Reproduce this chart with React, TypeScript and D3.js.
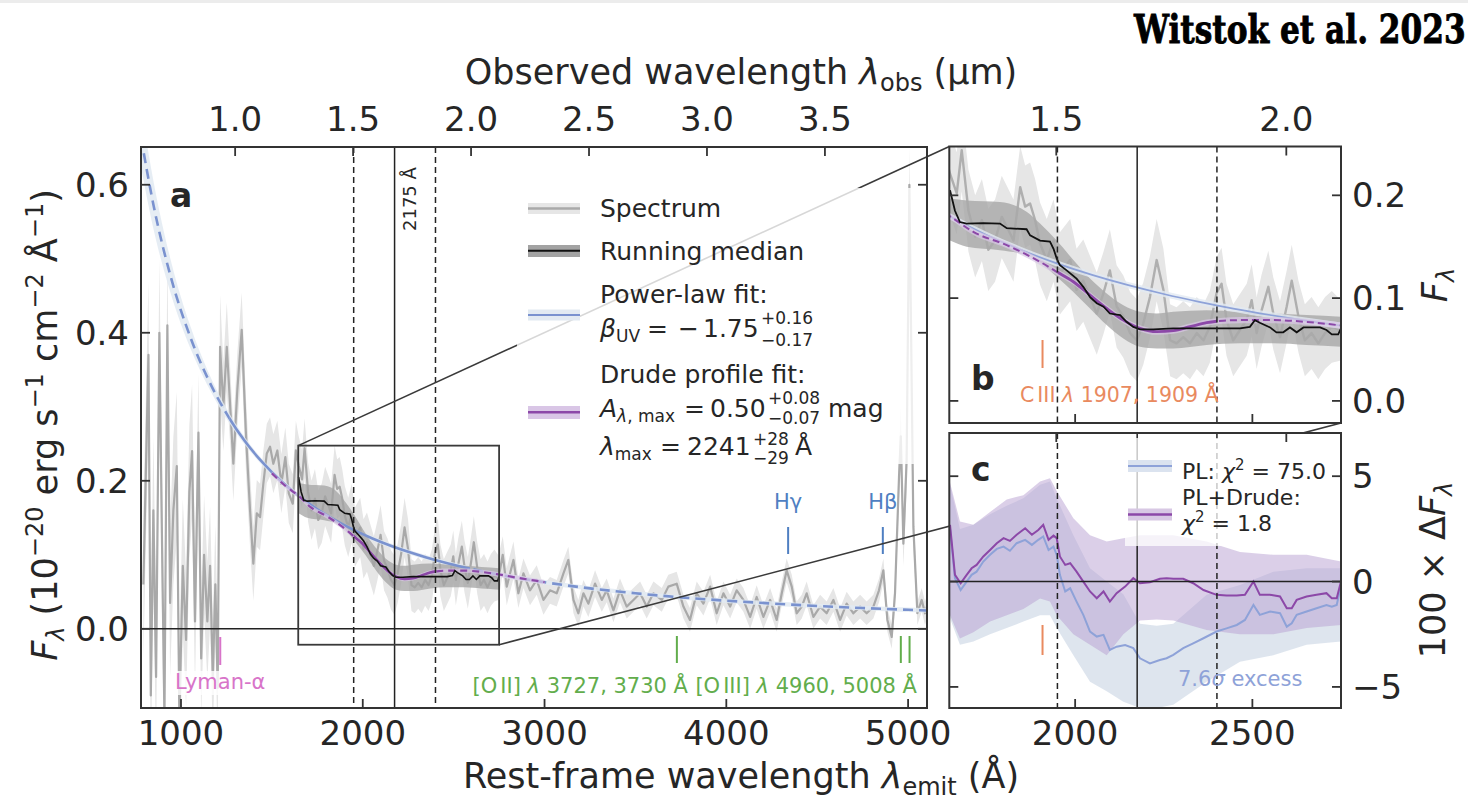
import React from "react";
import * as d3 from "d3";

// ---------------- data ----------------
const ONE_PLUS_Z = 7.705; // observed / rest-frame wavelength ratio

// spectrum: [rest wavelength (Å), F_lambda, 1-sigma error]
const spectrum: [number, number, number][] = [
  [793, 0.06, 0.1], [821, 0.37, 0.1], [834, -0.09, 0.1], [848, 0.16, 0.1], [863, -0.065, 0.1],
  [881, 0.4, 0.1], [896, 0.11, 0.1], [909, -0.12, 0.1], [925, 0.41, 0.1], [940, 0.035, 0.1],
  [958, 0.16, 0.1], [977, 0.22, 0.1], [991, -0.12, 0.1], [1010, 0.085, 0.09], [1028, -0.015, 0.09],
  [1046, 0.185, 0.09], [1061, 0.24, 0.09], [1077, 0.01, 0.09], [1096, 0.265, 0.08], [1111, -0.04, 0.08],
  [1127, 0.1, 0.08], [1145, 0.01, 0.08], [1160, 0.085, 0.08], [1175, -0.065, 0.08], [1189, 0.06, 0.08],
  [1202, -0.08, 0.08], [1215, 0.381, 0.07], [1233, 0.3, 0.06], [1252, 0.381, 0.06], [1274, 0.286, 0.05],
  [1288, 0.223, 0.05], [1310, 0.323, 0.05], [1334, 0.404, 0.05], [1358, 0.259, 0.05], [1380, 0.16, 0.05],
  [1398, 0.088, 0.05], [1417, 0.156, 0.045], [1435, 0.151, 0.045], [1453, 0.196, 0.045], [1472, 0.237, 0.04],
  [1490, 0.246, 0.04], [1508, 0.223, 0.04], [1530, 0.241, 0.04], [1552, 0.196, 0.04], [1574, 0.232, 0.04],
  [1593, 0.183, 0.04], [1615, 0.169, 0.04], [1632, 0.241, 0.04], [1647, 0.221, 0.04], [1666, 0.202, 0.04],
  [1680, 0.244, 0.04], [1699, 0.185, 0.04], [1718, 0.16, 0.04], [1737, 0.176, 0.04], [1755, 0.147, 0.04],
  [1774, 0.156, 0.04], [1793, 0.179, 0.04], [1812, 0.166, 0.04], [1826, 0.156, 0.04], [1845, 0.208, 0.04],
  [1859, 0.189, 0.04], [1873, 0.192, 0.04], [1887, 0.176, 0.04], [1901, 0.153, 0.04], [1920, 0.137, 0.04],
  [1939, 0.156, 0.04], [1957, 0.124, 0.04], [1986, 0.137, 0.04], [2004, 0.108, 0.04], [2023, 0.117, 0.04],
  [2042, 0.101, 0.04], [2061, 0.085, 0.04], [2080, 0.105, 0.04], [2098, 0.127, 0.04], [2117, 0.092, 0.04],
  [2136, 0.082, 0.04], [2155, 0.066, 0.04], [2174, 0.059, 0.04], [2192, 0.075, 0.04], [2211, 0.101, 0.04],
  [2230, 0.137, 0.04], [2249, 0.108, 0.04], [2268, 0.059, 0.035], [2286, 0.056, 0.035], [2305, 0.062, 0.035],
  [2324, 0.056, 0.035], [2343, 0.066, 0.035], [2362, 0.059, 0.035], [2380, 0.072, 0.035], [2399, 0.105, 0.035],
  [2413, 0.114, 0.035], [2427, 0.079, 0.035], [2446, 0.059, 0.035], [2465, 0.069, 0.035], [2484, 0.079, 0.035],
  [2498, 0.098, 0.035], [2512, 0.066, 0.035], [2526, 0.088, 0.035], [2545, 0.111, 0.035], [2559, 0.085, 0.035],
  [2578, 0.062, 0.035], [2597, 0.092, 0.035], [2611, 0.117, 0.035], [2630, 0.082, 0.035], [2648, 0.059, 0.035],
  [2667, 0.066, 0.035], [2686, 0.056, 0.035], [2705, 0.066, 0.035], [2724, 0.072, 0.035], [2747, 0.069, 0.03],
  [2770, 0.1, 0.025], [2792, 0.057, 0.025], [2829, 0.093, 0.025], [2856, 0.048, 0.02], [2884, 0.075, 0.02],
  [2920, 0.052, 0.02], [2957, 0.066, 0.02], [2994, 0.039, 0.02], [3030, 0.052, 0.018], [3067, 0.048, 0.018],
  [3104, 0.075, 0.018], [3131, 0.093, 0.018], [3159, 0.039, 0.018], [3186, 0.021, 0.018], [3214, 0.048, 0.018],
  [3241, 0.034, 0.018], [3278, 0.061, 0.018], [3315, 0.039, 0.016], [3342, 0.052, 0.016], [3379, 0.025, 0.016],
  [3415, 0.052, 0.016], [3452, 0.03, 0.016], [3489, 0.039, 0.016], [3526, 0.048, 0.016], [3562, 0.03, 0.016],
  [3599, 0.048, 0.016], [3645, 0.039, 0.016], [3681, 0.057, 0.016], [3727, 0.061, 0.016], [3764, 0.03, 0.016],
  [3800, 0.012, 0.016], [3837, 0.048, 0.016], [3874, 0.034, 0.016], [3911, 0.057, 0.016], [3947, 0.021, 0.016],
  [3984, 0.048, 0.016], [4021, 0.03, 0.016], [4057, 0.052, 0.016], [4094, 0.039, 0.016], [4131, 0.016, 0.016],
  [4167, 0.043, 0.016], [4204, 0.016, 0.016], [4241, 0.039, 0.016], [4277, 0.012, 0.016], [4305, 0.048, 0.016],
  [4332, 0.079, 0.016], [4360, 0.057, 0.016], [4387, 0.021, 0.016], [4415, 0.03, 0.016], [4442, 0.048, 0.016],
  [4479, 0.016, 0.016], [4516, 0.03, 0.016], [4552, 0.021, 0.016], [4589, 0.039, 0.016], [4626, 0.012, 0.016],
  [4662, 0.034, 0.016], [4699, 0.021, 0.016], [4736, 0.03, 0.016], [4772, 0.021, 0.016], [4809, 0.03, 0.016],
  [4840, 0.052, 0.016], [4864, 0.079, 0.016], [4886, 0.012, 0.016], [4910, -0.011, 0.016], [4928, 0.048, 0.02],
  [4950, 0.205, 0.03], [4960, 0.26, 0.04], [4974, 0.115, 0.03], [4992, 0.228, 0.04], [5007, 0.6, 0.05],
  [5029, 0.138, 0.03], [5051, 0.021, 0.016], [5075, 0.039, 0.016], [5093, 0.021, 0.016], [5104, 0.03, 0.016],
];

// running median: [λ, F]
const runningMedian: [number, number][] = [
  [1647, 0.205], [1661, 0.185], [1675, 0.174], [1694, 0.1725], [1741, 0.173], [1788, 0.1725],
  [1807, 0.168], [1863, 0.167], [1873, 0.161], [1901, 0.156], [1929, 0.155], [1939, 0.148],
  [1948, 0.1385], [1957, 0.132], [1976, 0.127], [2004, 0.119], [2023, 0.111], [2042, 0.101],
  [2061, 0.095], [2080, 0.0916], [2098, 0.085], [2127, 0.0835], [2145, 0.077], [2164, 0.072],
  [2183, 0.0696], [2221, 0.0696], [2277, 0.0705], [2333, 0.0705], [2390, 0.0705], [2465, 0.0705],
  [2493, 0.072], [2507, 0.0786], [2521, 0.076], [2550, 0.0715], [2568, 0.0667], [2587, 0.0667],
  [2606, 0.0715], [2625, 0.0667], [2644, 0.0715], [2691, 0.0715], [2709, 0.069], [2724, 0.0647],
  [2742, 0.0647], [2750, 0.0705],
];
// running-median uncertainty: [λ, low, high]
const medianBand: [number, number, number][] = [
  [1647, 0.156, 0.197], [1694, 0.15, 0.195], [1788, 0.1466, 0.1935], [1863, 0.1417, 0.184],
  [1901, 0.135, 0.1725], [1948, 0.1207, 0.156], [1995, 0.106, 0.137], [2042, 0.09, 0.119],
  [2089, 0.0738, 0.1045], [2136, 0.0608, 0.093], [2183, 0.0527, 0.0867], [2230, 0.0511, 0.0851],
  [2277, 0.0511, 0.0867], [2371, 0.0544, 0.0883], [2465, 0.056, 0.0867], [2559, 0.056, 0.0851],
  [2653, 0.0544, 0.0835], [2750, 0.0527, 0.0819],
];

// power-law fit: [λ, F, error]
const powerLaw: [number, number, number][] = [
  [780, 0.664, 0.04], [850, 0.571, 0.032], [950, 0.47, 0.022], [1050, 0.395, 0.015], [1150, 0.337, 0.01],
  [1250, 0.291, 0.007], [1350, 0.254, 0.005], [1450, 0.2244, 0.004], [1550, 0.1997, 0.004], [1650, 0.179, 0.003],
  [1750, 0.1615, 0.003], [1850, 0.1465, 0.003], [1950, 0.1336, 0.003], [2050, 0.1224, 0.003], [2150, 0.1126, 0.003],
  [2250, 0.104, 0.003], [2350, 0.0964, 0.003], [2450, 0.0896, 0.003], [2550, 0.0836, 0.003], [2650, 0.0781, 0.003],
  [2750, 0.0732, 0.003], [3000, 0.0629, 0.003], [3250, 0.0546, 0.003], [3500, 0.048, 0.003], [3750, 0.0425, 0.003],
  [4000, 0.038, 0.003], [4250, 0.0342, 0.003], [4500, 0.0309, 0.003], [4750, 0.0281, 0.003], [5000, 0.0257, 0.003],
  [5104, 0.0248, 0.003],
];

// Drude-profile fit: [λ, F, error]
const drudeFit: [number, number, number][] = [
  [1500, 0.21, 0.003], [1575, 0.193, 0.003], [1647, 0.1796, 0.003], [1713, 0.1644, 0.003], [1807, 0.1515, 0.003],
  [1901, 0.1353, 0.003], [1948, 0.1256, 0.003], [1995, 0.1159, 0.003], [2042, 0.1029, 0.003], [2089, 0.09, 0.003],
  [2136, 0.0786, 0.003], [2183, 0.0706, 0.003], [2230, 0.0673, 0.003], [2277, 0.0683, 0.003], [2324, 0.0722, 0.003],
  [2371, 0.0761, 0.003], [2418, 0.078, 0.003], [2465, 0.0786, 0.003], [2559, 0.0786, 0.003], [2653, 0.0768, 0.003],
  [2747, 0.0735, 0.003], [2850, 0.069, 0.003], [2950, 0.065, 0.003], [3000, 0.063, 0.003],
];

// residuals (panel c), 100 × ΔF
const resLam = [
  1647, 1661, 1677, 1694, 1708, 1722, 1741, 1760, 1779, 1798, 1816, 1835, 1859, 1878, 1896, 1910, 1925, 1939,
  1948, 1957, 1972, 1986, 2004, 2023, 2042, 2061, 2080, 2098, 2117, 2141, 2164, 2183, 2211, 2239, 2258, 2277,
  2305, 2333, 2362, 2399, 2427, 2456, 2479, 2503, 2521, 2550, 2578, 2597, 2611, 2625, 2653, 2681, 2709, 2724,
  2738, 2750,
];
const resPL = [
  2.53, 0.16, -0.4, 0.0, 0.32, 0.47, 0.95, 1.27, 1.55, 1.66, 1.46, 1.82, 1.98, 1.74, 1.98, 2.14, 1.5, 1.66,
  1.27, 0.32, -0.47, -0.32, -0.95, -1.58, -2.37, -2.61, -2.53, -3.24, -3.09, -3.01, -3.16, -3.64, -3.88, -3.72, -3.64, -3.48,
  -3.16, -2.93, -2.69, -2.37, -2.22, -2.06, -1.82, -1.11, -1.58, -1.42, -1.5, -2.14, -1.98, -1.58, -1.42, -1.27, -1.11, -1.19,
  -1.11, -0.16,
];
const resDrude = [
  2.69, 0.32, -0.08, 0.32, 0.63, 0.79, 1.19, 1.5, 1.82, 2.06, 1.93, 2.22, 2.53, 2.22, 2.45, 2.69, 1.98, 2.18,
  2.06, 1.19, 0.79, 0.87, 0.47, 0.0, -0.47, -0.79, -0.47, -0.95, -0.55, -0.24, 0.16, -0.08, -0.03, 0.13, 0.16, 0.13,
  0.13, -0.08, -0.4, -0.63, -0.66, -0.66, -0.63, 0.0, -0.63, -0.63, -0.71, -1.27, -1.27, -0.87, -0.71, -0.63, -0.55, -0.79,
  -0.79, 0.0,
];
const resBandLam = [1647, 1675, 1713, 1760, 1807, 1854, 1901, 1929, 1948, 1995, 2042, 2089, 2136, 2183, 2230, 2277, 2371, 2465, 2559, 2653, 2750];
const resPLLo = [-1.74, -3.0, -2.85, -2.5, -2.2, -1.9, -1.6, -1.6, -2.2, -3.5, -4.75, -5.2, -5.7, -6.0, -6.0, -5.85, -4.75, -3.8, -3.5, -3.0, -2.85];
const resPLHi = [4.6, 2.5, 2.7, 3.2, 3.6, 3.95, 4.6, 4.75, 3.95, 2.2, 0.63, 0.0, -0.6, -2.0, -2.1, -2.0, -0.63, -0.16, 0.47, 0.63, 0.63];
const resDrLo = [-1.6, -2.7, -2.4, -1.9, -1.6, -1.3, -0.8, -0.95, -1.6, -2.5, -3.0, -3.5, -2.5, -1.85, -1.8, -1.85, -2.3, -2.5, -2.5, -2.2, -2.06];
const resDrHi = [4.7, 2.85, 2.7, 3.3, 3.9, 4.1, 4.75, 4.9, 4.3, 3.0, 2.2, 1.9, 2.05, 2.2, 2.2, 2.2, 1.9, 1.4, 1.27, 1.27, 0.95];

// ticks
const aXTicks = [1000, 2000, 3000, 4000, 5000];
const aYTicks = [0.0, 0.2, 0.4, 0.6];
const obsTicksA = [1.0, 1.5, 2.0, 2.5, 3.0, 3.5];
const bYTicks = [0.0, 0.1, 0.2];
const obsTicksB = [1.5, 2.0];
const bcXTicks = [2000, 2500];
const cYTicks = [-5, 0, 5];

// reference wavelengths
const bumpLam = 2175;
const bumpEdges = [1950, 2400];
const lyaLam = 1216;
const ciiiLam = 1908;
const oiiLam = 3728;
const oiiiLams = [4960, 5008];
const hLines = [
  { lam: 4340, label: "Hγ" },
  { lam: 4861, label: "Hβ" },
];
const plFitRange = [1265, 2590];
const zoomX = [1645, 2750];
const zoomY = [-0.0215, 0.2475];

// ---------------- layout ----------------
const A = { l: 141, r: 927, t: 147, b: 708 };
const B = { l: 949.3, r: 1341, t: 146.5, b: 423 };
const C = { l: 949.3, r: 1341, t: 433, b: 708 };
const FONT = "DejaVu Sans, Noto Sans, sans-serif";
const INK = "#262626";
const SPINE = "#333333";
const TICK = 9;
const TF = 34; // tick font
const COL = {
  specLine: "#a9a9a9",
  specBand: "#e6e6e6",
  medBand: "#a3a3a3",
  med: "#111111",
  pl: "#7a92cf",
  plLight: "#8ea2d8",
  plBand: "#e2eaf2",
  dr: "#8c48a8",
  drBand: "#d9c6e6",
  lya: "#d874c9",
  green: "#62ad4c",
  hblue: "#4f7fc2",
  orange: "#e98a5f",
};

const rest = (um: number) => (um * 10000) / ONE_PLUS_Z;

function Ticks({ vals, pos, side, p }: { vals: number[]; pos: (v: number) => number; side: string; p: any }) {
  return (
    <g stroke={SPINE} strokeWidth={1.8}>
      {vals.map((v, i) => {
        const q = pos(v);
        if (side === "bottom") return <line key={i} x1={q} x2={q} y1={p.b} y2={p.b - TICK} />;
        if (side === "top") return <line key={i} x1={q} x2={q} y1={p.t} y2={p.t + TICK} />;
        if (side === "left") return <line key={i} y1={q} y2={q} x1={p.l} x2={p.l + TICK} />;
        return <line key={i} y1={q} y2={q} x1={p.r} x2={p.r - TICK} />;
      })}
    </g>
  );
}

export default function App() {
  const xA = d3.scaleLinear().domain([780, 5104]).range([A.l, A.r]);
  const yA = d3.scaleLinear().domain([-0.107, 0.651]).range([A.b, A.t]);
  const xB = d3.scaleLinear().domain([zoomX[0], zoomX[1]]).range([B.l, B.r]);
  const yB = d3.scaleLinear().domain([zoomY[0], zoomY[1]]).range([B.b, B.t]);
  const yC = d3.scaleLinear().domain([-6, 7.05]).range([C.b, C.t]);

  const mk = (x: any, y: any) => {
    const specLine = d3.line<[number, number, number]>().x((d) => x(d[0])).y((d) => y(d[1]))(spectrum) || "";
    const specArea = d3
      .area<[number, number, number]>()
      .x((d) => x(d[0]))
      .y0((d) => y(d[1] - d[2]))
      .y1((d) => y(d[1] + d[2]))(spectrum) || "";
    const medLine = d3.line<[number, number]>().x((d) => x(d[0])).y((d) => y(d[1]))(runningMedian) || "";
    const medArea = d3
      .area<[number, number, number]>()
      .x((d) => x(d[0]))
      .y0((d) => y(d[1]))
      .y1((d) => y(d[2]))
      .curve(d3.curveMonotoneX)(medianBand) || "";
    const plLine = d3
      .line<[number, number, number]>()
      .x((d) => x(d[0]))
      .y((d) => y(d[1]))
      .curve(d3.curveMonotoneX)(powerLaw) || "";
    const plArea = d3
      .area<[number, number, number]>()
      .x((d) => x(d[0]))
      .y0((d) => y(d[1] - d[2]))
      .y1((d) => y(d[1] + d[2]))
      .curve(d3.curveMonotoneX)(powerLaw) || "";
    const drLine = d3
      .line<[number, number, number]>()
      .x((d) => x(d[0]))
      .y((d) => y(d[1]))
      .curve(d3.curveMonotoneX)(drudeFit) || "";
    const drArea = d3
      .area<[number, number, number]>()
      .x((d) => x(d[0]))
      .y0((d) => y(d[1] - d[2]))
      .y1((d) => y(d[1] + d[2]))
      .curve(d3.curveMonotoneX)(drudeFit) || "";
    return { specLine, specArea, medLine, medArea, plLine, plArea, drLine, drArea };
  };
  const pa = mk(xA, yA);
  const pb = mk(xB, yB);

  const resIdx = resLam.map((_, i) => i);
  const bandIdx = resBandLam.map((_, i) => i);
  const resPLPath = d3.line<number>().x((i) => xB(resLam[i])).y((i) => yC(resPL[i]))(resIdx) || "";
  const resDrPath = d3.line<number>().x((i) => xB(resLam[i])).y((i) => yC(resDrude[i]))(resIdx) || "";
  const resPLBand = d3
    .area<number>()
    .x((i) => xB(resBandLam[i]))
    .y0((i) => yC(resPLLo[i]))
    .y1((i) => yC(resPLHi[i]))(bandIdx) || "";
  const resDrBand = d3
    .area<number>()
    .x((i) => xB(resBandLam[i]))
    .y0((i) => yC(resDrLo[i]))
    .y1((i) => yC(resDrHi[i]))(bandIdx) || "";

  const f1 = d3.format(".1f");
  const fi = d3.format("d");

  const rectL = xA(zoomX[0]);
  const rectR = xA(zoomX[1]);
  const rectT = yA(zoomY[1]);
  const rectB = yA(zoomY[0]);

  const vlines = (x: any, p: any) => (
    <g>
      {bumpEdges.map((l, i) => (
        <line key={i} x1={x(l)} x2={x(l)} y1={p.t} y2={p.b} stroke="#222" strokeWidth={1.5} strokeDasharray="6,4" />
      ))}
      <line x1={x(bumpLam)} x2={x(bumpLam)} y1={p.t} y2={p.b} stroke="#222" strokeWidth={1.5} />
    </g>
  );

  const sub = 17;

  return (
    <svg
      width={1468}
      height={802}
      viewBox="0 0 1468 802"
      style={{ position: "absolute", left: 0, top: 0, background: "#fff" }}
      fontFamily={FONT}
    >
      <defs>
        <clipPath id="clipA">
          <rect x={A.l} y={A.t} width={A.r - A.l} height={A.b - A.t} />
        </clipPath>
        <clipPath id="clipB">
          <rect x={B.l} y={B.t} width={B.r - B.l} height={B.b - B.t} />
        </clipPath>
        <clipPath id="clipC">
          <rect x={C.l} y={C.t} width={C.r - C.l} height={C.b - C.t} />
        </clipPath>
        <clipPath id="plSolidA">
          <rect x={xA(plFitRange[0])} y={A.t} width={xA(plFitRange[1]) - xA(plFitRange[0])} height={A.b - A.t} />
        </clipPath>
        <clipPath id="plDashA">
          <rect x={A.l} y={A.t} width={xA(plFitRange[0]) - A.l} height={A.b - A.t} />
          <rect x={xA(plFitRange[1])} y={A.t} width={A.r - xA(plFitRange[1])} height={A.b - A.t} />
        </clipPath>
        <clipPath id="drSolidA">
          <rect x={xA(bumpEdges[0])} y={A.t} width={xA(bumpEdges[1]) - xA(bumpEdges[0])} height={A.b - A.t} />
        </clipPath>
        <clipPath id="drDashA">
          <rect x={A.l} y={A.t} width={xA(bumpEdges[0]) - A.l} height={A.b - A.t} />
          <rect x={xA(bumpEdges[1])} y={A.t} width={A.r - xA(bumpEdges[1])} height={A.b - A.t} />
        </clipPath>
        <clipPath id="drSolidB">
          <rect x={xB(bumpEdges[0])} y={B.t} width={xB(bumpEdges[1]) - xB(bumpEdges[0])} height={B.b - B.t} />
        </clipPath>
        <clipPath id="drDashB">
          <rect x={B.l} y={B.t} width={xB(bumpEdges[0]) - B.l} height={B.b - B.t} />
          <rect x={xB(bumpEdges[1])} y={B.t} width={B.r - xB(bumpEdges[1])} height={B.b - B.t} />
        </clipPath>
      </defs>

      <rect x={0} y={0} width={1468} height={802} fill="#fff" />
      <rect x={0} y={0} width={1468} height={3} fill="#ececec" />

      {/* title */}
      <text
        transform="translate(1134,43) scale(0.78,1)"
        fontFamily="DejaVu Serif, Liberation Serif, serif"
        fontWeight={900}
        fontSize={40}
        fill="#000"
        stroke="#000"
        strokeWidth={0.9}
      >
        Witstok et al. 2023
      </text>

      {/* ================= PANEL A ================= */}
      <g clipPath="url(#clipA)">
        <path d={pa.specArea} fill={COL.specBand} />
        <path d={pa.specLine} fill="none" stroke={COL.specLine} strokeWidth={2.2} strokeLinejoin="round" />
        <path d={pa.plArea} fill={COL.plBand} opacity={0.85} />
        <path d={pa.medArea} fill={COL.medBand} opacity={0.75} />
        <path d={pa.plLine} fill="none" stroke={COL.pl} strokeWidth={2.6} clipPath="url(#plSolidA)" />
        <g clipPath="url(#plDashA)">
          <path d={pa.plLine} fill="none" stroke={COL.pl} strokeWidth={2.6} strokeDasharray="10,6" />
        </g>
        <path d={pa.drArea} fill={COL.drBand} opacity={0.7} />
        <path d={pa.drLine} fill="none" stroke={COL.dr} strokeWidth={2.6} clipPath="url(#drSolidA)" />
        <g clipPath="url(#drDashA)">
          <path d={pa.drLine} fill="none" stroke={COL.dr} strokeWidth={2.2} strokeDasharray="7,5" />
        </g>
        <path d={pa.medLine} fill="none" stroke={COL.med} strokeWidth={1.6} />
        {vlines(xA, A)}
        <line x1={A.l} x2={A.r} y1={yA(0)} y2={yA(0)} stroke="#222" strokeWidth={1.6} />
      </g>

      {/* line annotations in panel A */}
      <text
        transform={`translate(${xA(bumpLam) + 21},${231}) rotate(-90)`}
        fontSize={18}
        fill={INK}
      >
        2175 Å
      </text>
      <line x1={xA(lyaLam)} x2={xA(lyaLam)} y1={637} y2={665} stroke={COL.lya} strokeWidth={2} />
      <rect x={xA(lyaLam) - 48} y={671} width={96} height={24} fill="#fff" opacity={0.8} />
      <text x={xA(lyaLam)} y={689} fontSize={21} fill={COL.lya} textAnchor="middle">
        Lyman-α
      </text>
      <line x1={xA(oiiLam)} x2={xA(oiiLam)} y1={636} y2={663} stroke={COL.green} strokeWidth={2} />
      <text x={688} y={693} fontSize={21} fill={COL.green} textAnchor="end">
        [O<tspan dx={3}>II]</tspan> <tspan fontStyle="italic">λ</tspan> 3727, 3730 Å
      </text>
      {oiiiLams.map((l, i) => (
        <line key={i} x1={xA(l)} x2={xA(l)} y1={636} y2={663} stroke={COL.green} strokeWidth={2} />
      ))}
      <text x={917} y={693} fontSize={21} fill={COL.green} textAnchor="end">
        [O<tspan dx={3}>III]</tspan> <tspan fontStyle="italic">λ</tspan> 4960, 5008 Å
      </text>
      {hLines.map((h, i) => (
        <g key={i}>
          <line x1={xA(h.lam)} x2={xA(h.lam)} y1={527} y2={554} stroke={COL.hblue} strokeWidth={2} />
          <text x={xA(h.lam)} y={509} fontSize={21} fill={COL.hblue} textAnchor="middle">
            {h.label}
          </text>
        </g>
      ))}

      {/* zoom rectangle + connectors */}
      <rect x={rectL} y={rectT} width={rectR - rectL} height={rectB - rectT} fill="none" stroke="#3a3a3a" strokeWidth={1.8} />
      <line x1={rectL} y1={rectT} x2={B.l} y2={B.t} stroke="#3a3a3a" strokeWidth={1.6} />
      <line x1={rectR} y1={rectB} x2={B.r} y2={B.b} stroke="#3a3a3a" strokeWidth={1.6} />

      {/* panel A axes */}
      <rect x={A.l} y={A.t} width={A.r - A.l} height={A.b - A.t} fill="none" stroke={SPINE} strokeWidth={2} />
      <Ticks vals={aXTicks} pos={xA} side="bottom" p={A} />
      <Ticks vals={obsTicksA} pos={(v) => xA(rest(v))} side="top" p={A} />
      <Ticks vals={aYTicks} pos={yA} side="left" p={A} />
      <Ticks vals={aYTicks} pos={yA} side="right" p={A} />
      <g fontSize={TF} fill={INK}>
        {aXTicks.map((v, i) => (
          <text key={i} x={xA(v)} y={745} textAnchor="middle">
            {fi(v)}
          </text>
        ))}
        {obsTicksA.map((v, i) => (
          <text key={i} x={xA(rest(v))} y={131} textAnchor="middle">
            {f1(v)}
          </text>
        ))}
        {aYTicks.map((v, i) => (
          <text key={i} x={A.l - 12} y={yA(v) + 12} textAnchor="end">
            {f1(v)}
          </text>
        ))}
      </g>
      <text x={170} y={207} fontSize={33} fontWeight="bold" fill={INK}>
        a
      </text>

      {/* legend A */}
      <rect x={517} y={188} width={401} height={276} fill="#fff" opacity={0.8} />
      <g>
        <rect x={528} y={203} width={52} height={11} fill={COL.specBand} />
        <line x1={528} x2={580} y1={208.5} y2={208.5} stroke={COL.specLine} strokeWidth={2.5} />
        <rect x={528} y={245} width={52} height={12} fill={COL.medBand} />
        <line x1={528} x2={580} y1={250.7} y2={250.7} stroke={COL.med} strokeWidth={2} />
        <rect x={528} y={309.5} width={52} height={11} fill={COL.plBand} />
        <line x1={528} x2={580} y1={315} y2={315} stroke={COL.pl} strokeWidth={2.2} />
        <rect x={528} y={406} width={52} height={13} fill={COL.drBand} />
        <line x1={528} x2={580} y1={412.3} y2={412.3} stroke={COL.dr} strokeWidth={2.5} />
      </g>
      <g fontSize={25} fill={INK}>
        <text x={600} y={217}>Spectrum</text>
        <text x={600} y={260}>Running median</text>
        <text x={600} y={303}>Power-law fit:</text>
        <text x={600} y={337}>
          <tspan fontStyle="italic">β</tspan>
          <tspan fontSize={sub} dy={5}>UV</tspan>
        </text>
        <text x={647} y={337}>=</text>
        <text x={678} y={337}>−</text>
        <text x={703} y={337}>1.75</text>
        <text x={761} y={324} fontSize={sub}>+0.16</text>
        <text x={761} y={346} fontSize={sub}>−0.17</text>
        <text x={600} y={383}>Drude profile fit:</text>
        <text x={600} y={417}>
          <tspan fontStyle="italic">A</tspan>
          <tspan fontSize={sub} dy={5} fontStyle="italic">λ</tspan>
          <tspan fontSize={sub}>, max</tspan>
        </text>
        <text x={684} y={417}>=</text>
        <text x={710} y={417}>0.50</text>
        <text x={768} y={404} fontSize={sub}>+0.08</text>
        <text x={768} y={424} fontSize={sub}>−0.07</text>
        <text x={828} y={417}>mag</text>
        <text x={600} y={455}>
          <tspan fontStyle="italic">λ</tspan>
          <tspan fontSize={sub} dy={5}>max</tspan>
        </text>
        <text x={660} y={455}>=</text>
        <text x={687} y={455}>2241</text>
        <text x={753} y={445} fontSize={sub}>+28</text>
        <text x={753} y={464} fontSize={sub}>−29</text>
        <text x={795} y={455}>Å</text>
      </g>

      {/* ================= PANEL B ================= */}
      <rect x={B.l} y={B.t} width={B.r - B.l} height={B.b - B.t} fill="#fff" />
      <g clipPath="url(#clipB)">
        <path d={pb.specArea} fill={COL.specBand} />
        <path d={pb.medArea} fill={COL.medBand} opacity={0.75} />
        <path d={pb.specLine} fill="none" stroke={COL.specLine} strokeWidth={2.4} strokeLinejoin="round" opacity={0.9} />
        <path d={pb.plArea} fill={COL.plBand} opacity={0.8} />
        <path d={pb.plLine} fill="none" stroke={COL.plLight} strokeWidth={1.7} />
        <path d={pb.drArea} fill={COL.drBand} opacity={0.7} />
        <path d={pb.drLine} fill="none" stroke={COL.dr} strokeWidth={2.8} clipPath="url(#drSolidB)" />
        <g clipPath="url(#drDashB)">
          <path d={pb.drLine} fill="none" stroke={COL.dr} strokeWidth={2} strokeDasharray="7,4" />
        </g>
        <path d={pb.medLine} fill="none" stroke={COL.med} strokeWidth={1.8} />
        {vlines(xB, B)}
      </g>
      <line x1={xB(ciiiLam)} x2={xB(ciiiLam)} y1={340} y2={368} stroke={COL.orange} strokeWidth={2} />
      <text x={1020} y={402} fontSize={20.5} fill={COL.orange}>
        C<tspan dx={3}>III</tspan> <tspan fontStyle="italic">λ</tspan> 1907, 1909 Å
      </text>
      <text x={971} y={390} fontSize={33} fontWeight="bold" fill={INK}>
        b
      </text>
      <rect x={B.l} y={B.t} width={B.r - B.l} height={B.b - B.t} fill="none" stroke={SPINE} strokeWidth={2} />
      <Ticks vals={bcXTicks} pos={xB} side="bottom" p={B} />
      <Ticks vals={obsTicksB} pos={(v) => xB(rest(v))} side="top" p={B} />
      <Ticks vals={bYTicks} pos={yB} side="left" p={B} />
      <Ticks vals={bYTicks} pos={yB} side="right" p={B} />
      <g fontSize={TF} fill={INK}>
        {obsTicksB.map((v, i) => (
          <text key={i} x={xB(rest(v))} y={131} textAnchor="middle">
            {f1(v)}
          </text>
        ))}
        {bYTicks.map((v, i) => (
          <text key={i} x={B.r + 11} y={yB(v) + 12}>
            {f1(v)}
          </text>
        ))}
      </g>

      {/* ================= PANEL C ================= */}
      <rect x={C.l} y={C.t} width={C.r - C.l} height={C.b - C.t} fill="#fff" />
      <g clipPath="url(#clipC)">
        <path d={resPLBand} fill="#c8d3e3" opacity={0.6} />
        <path d={resDrBand} fill="#b8a0d2" opacity={0.5} />
        <path d={resPLPath} fill="none" stroke={COL.plLight} strokeWidth={2} />
        <path d={resDrPath} fill="none" stroke={COL.dr} strokeWidth={2} />
        <line x1={C.l} x2={C.r} y1={yC(0)} y2={yC(0)} stroke="#222" strokeWidth={1.6} />
        {vlines(xB, C)}
        <line x1={xB(ciiiLam)} x2={xB(ciiiLam)} y1={625} y2={655} stroke={COL.orange} strokeWidth={2} />
        <rect x={1125} y={438} width={208} height={108} fill="#fff" opacity={0.75} />
      </g>
      <g>
        <rect x={1128} y={460} width={44} height={12} fill="#dbe3ef" />
        <line x1={1128} x2={1172} y1={466} y2={466} stroke={COL.plLight} strokeWidth={2} />
        <rect x={1128} y={508.5} width={44} height={12} fill="#d8c8e4" />
        <line x1={1128} x2={1172} y1={514.5} y2={514.5} stroke={COL.dr} strokeWidth={2.5} />
      </g>
      <g fontSize={22} fill={INK}>
        <text x={1182} y={479}>
          PL: <tspan fontStyle="italic">χ</tspan>
          <tspan fontSize={15} dy={-9}>2</tspan>
          <tspan dy={9}> = 75.0</tspan>
        </text>
        <text x={1182} y={505}>PL+Drude:</text>
        <text x={1182} y={531}>
          <tspan fontStyle="italic">χ</tspan>
          <tspan fontSize={15} dy={-9}>2</tspan>
          <tspan dy={9}> = 1.8</tspan>
        </text>
      </g>
      <text x={1178} y={686} fontSize={21} fill={COL.plLight}>
        7.6<tspan fontStyle="italic">σ</tspan> excess
      </text>
      <text x={971} y={481} fontSize={33} fontWeight="bold" fill={INK}>
        c
      </text>
      <rect x={C.l} y={C.t} width={C.r - C.l} height={C.b - C.t} fill="none" stroke={SPINE} strokeWidth={2} />
      <Ticks vals={bcXTicks} pos={xB} side="bottom" p={C} />
      <Ticks vals={obsTicksB} pos={(v) => xB(rest(v))} side="top" p={C} />
      <Ticks vals={cYTicks} pos={yC} side="left" p={C} />
      <Ticks vals={cYTicks} pos={yC} side="right" p={C} />
      <g fontSize={TF} fill={INK}>
        {bcXTicks.map((v, i) => (
          <text key={i} x={xB(v)} y={745} textAnchor="middle">
            {fi(v)}
          </text>
        ))}
        {cYTicks.map((v, i) => (
          <text key={i} x={C.r + 11} y={yC(v) + 12}>
            {fi(v)}
          </text>
        ))}
      </g>

      {/* ================= AXIS LABELS ================= */}
      <g fontSize={35} fill={INK}>
        <text x={741} y={84} textAnchor="middle">
          Observed wavelength <tspan fontStyle="italic">λ</tspan>
          <tspan fontSize={24} dy={7}>obs</tspan>
          <tspan dy={-7}> (µm)</tspan>
        </text>
        <text x={741} y={788} textAnchor="middle">
          Rest-frame wavelength <tspan fontStyle="italic">λ</tspan>
          <tspan fontSize={24} dy={7}>emit</tspan>
          <tspan dy={-7}> (Å)</tspan>
        </text>
        <text transform="translate(57,425) rotate(-90)" textAnchor="middle">
          <tspan fontStyle="italic">F</tspan>
          <tspan fontSize={24} dy={7} fontStyle="italic">λ</tspan>
          <tspan dy={-7}> (10</tspan>
          <tspan fontSize={24} dy={-14}>−20</tspan>
          <tspan dy={14}> erg s</tspan>
          <tspan fontSize={24} dy={-14}>−1</tspan>
          <tspan dy={14}> cm</tspan>
          <tspan fontSize={24} dy={-14}>−2</tspan>
          <tspan dy={14}> Å</tspan>
          <tspan fontSize={24} dy={-14}>−1</tspan>
          <tspan dy={14}>)</tspan>
        </text>
        <text transform="translate(1447,285) rotate(-90)" textAnchor="middle">
          <tspan fontStyle="italic">F</tspan>
          <tspan fontSize={24} dy={7} fontStyle="italic">λ</tspan>
        </text>
        <text transform="translate(1445,570) rotate(-90)" textAnchor="middle">
          100 × Δ<tspan fontStyle="italic">F</tspan>
          <tspan fontSize={24} dy={7} fontStyle="italic">λ</tspan>
        </text>
      </g>
    </svg>
  );
}
